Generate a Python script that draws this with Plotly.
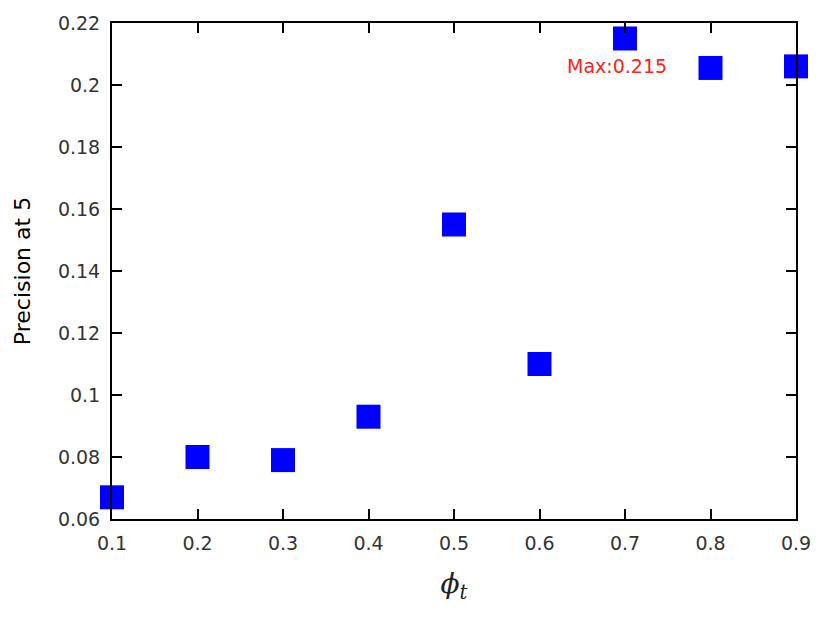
import plotly.graph_objects as go

phi_t = [0.1, 0.2, 0.3, 0.4, 0.5, 0.6, 0.7, 0.8, 0.9]
precision_at_5 = [0.067, 0.080, 0.079, 0.093, 0.155, 0.110, 0.215, 0.2055, 0.206]

x_ticks = [0.1, 0.2, 0.3, 0.4, 0.5, 0.6, 0.7, 0.8, 0.9]
y_ticks = [0.06, 0.08, 0.1, 0.12, 0.14, 0.16, 0.18, 0.2, 0.22]
y_tick_text = ['0.06', '0.08', '0.1', '0.12', '0.14', '0.16', '0.18', '0.2', '0.22']

max_idx = precision_at_5.index(max(precision_at_5))

fig = go.Figure()
fig.add_trace(go.Scatter(
    x=phi_t,
    y=precision_at_5,
    mode='markers',
    marker=dict(symbol='square', size=24, color='#0000ff', line=dict(width=0)),
    cliponaxis=False,
    showlegend=False,
))

fig.add_annotation(
    x=phi_t[max_idx],
    y=precision_at_5[max_idx],
    text=f'Max:{precision_at_5[max_idx]}',
    showarrow=False,
    xshift=-8,
    yshift=-27,
    font=dict(family='DejaVu Sans', size=19, color='#ff2020'),
)

axis_style = dict(
    showgrid=False,
    zeroline=False,
    showline=True,
    linecolor='black',
    linewidth=2,
    mirror='ticks',
    ticks='inside',
    ticklen=10,
    tickwidth=1.5,
    tickcolor='black',
    automargin=False,
    tickfont=dict(family='DejaVu Sans', size=19, color='#333333'),
)

fig.update_xaxes(
    range=[0.1, 0.9],
    tickvals=x_ticks,
    ticktext=[str(v) for v in x_ticks],
    ticklabelstandoff=6,
    title=dict(
        text='<i>ϕ</i><sub><i>t</i></sub>',
        font=dict(family='DejaVu Serif', size=28, color='#222222'),
        standoff=21,
    ),
    **axis_style,
)
fig.update_yaxes(
    range=[0.06, 0.22],
    tickvals=y_ticks,
    ticktext=y_tick_text,
    ticklabelstandoff=6,
    title=dict(
        text='Precision at 5',
        font=dict(family='DejaVu Sans', size=22, color='black'),
        standoff=21,
    ),
    **axis_style,
)

# page body adds an 8px margin, so the figure is drawn 8px smaller
fig.update_layout(
    width=822,
    height=615,
    margin=dict(l=104, r=34, t=15, b=104),
    plot_bgcolor='white',
    paper_bgcolor='white',
)

fig.write_html('out.html')
